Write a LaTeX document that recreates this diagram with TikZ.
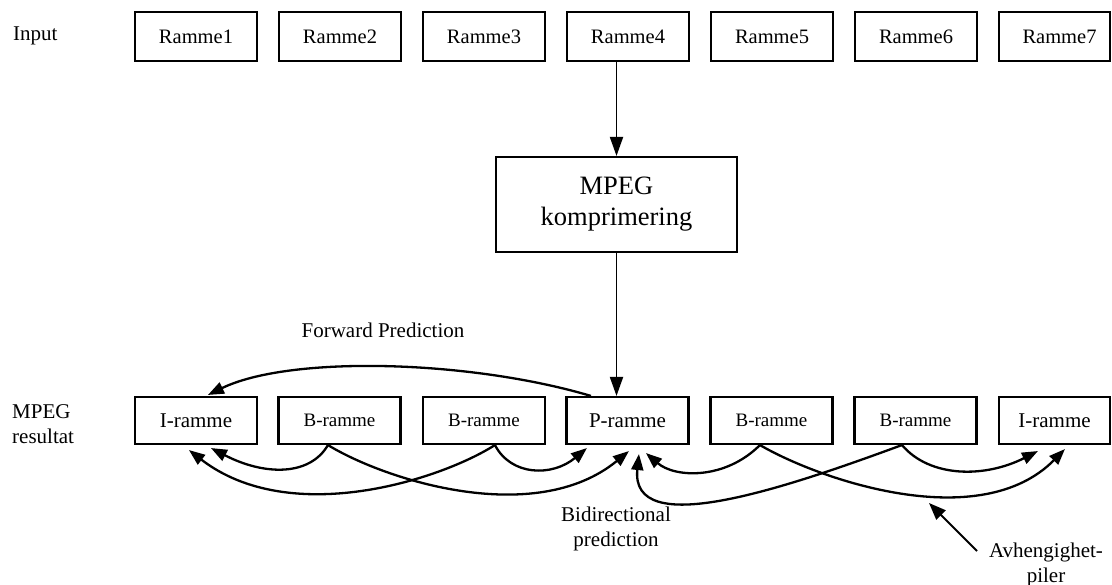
\documentclass[tikz,border=0pt]{standalone}
\usepackage{fontspec}
\setmainfont{Liberation Serif}
\usetikzlibrary{arrows.meta,calc}
\begin{document}
\begin{tikzpicture}[x=1pt,y=-1pt,
  frame/.style={draw,line width=2.1pt,inner sep=0pt,minimum width=122pt},
  inframe/.style={frame,minimum height=49pt,font=\fontsize{20.5}{24}\selectfont},
  outframe/.style={frame,minimum height=47pt,font=\fontsize{21}{24}\selectfont},
  bframe/.style={frame,minimum height=47pt,font=\fontsize{19}{22}\selectfont},
  lbl/.style={inner sep=0pt,font=\fontsize{21}{25}\selectfont},
  flow/.style={line width=1.9pt,-{Triangle[length=19pt,width=13pt]}},
  dep/.style={line width=2.3pt,-{Triangle[length=16pt,width=12pt]}},
  pointer/.style={line width=1.8pt,-{Triangle[length=17pt,width=13pt]}}]
\useasboundingbox (0,0) rectangle (1112,585);

% input frames
\node[inframe] (r1) at (196,36.5) {Ramme1};
\node[inframe] (r2) at (340,36.5) {Ramme2};
\node[inframe] (r3) at (484,36.5) {Ramme3};
\node[inframe] (r4) at (628,36.5) {Ramme4};
\node[inframe] (r5) at (772,36.5) {Ramme5};
\node[inframe] (r6) at (916,36.5) {Ramme6};
\node[inframe,minimum width=111pt] (r7) at (1054.5,36.5) {\hspace*{10pt}Ramme7};

% compressor
\node[frame,minimum width=241pt,minimum height=95pt,align=center,
  font=\fontsize{26.5}{31}\selectfont] (mp) at (616.5,204.5) {MPEG\\komprimering};

% output frames
\node[outframe] (i1) at (196,420.5) {I-ramme};
\node[bframe]   (b1) at (339.5,420.5) {B-ramme};
\node[bframe]   (b2) at (484,420.5) {B-ramme};
\node[outframe] (p)  at (627.5,420.5) {P-ramme};
\node[bframe]   (b3) at (771.5,420.5) {B-ramme};
\node[bframe]   (b4) at (915.5,420.5) {B-ramme};
\node[outframe,minimum width=111pt] (i2) at (1054.5,420.5) {I-ramme};

% row captions
\node[lbl,anchor=west] (inp) at (13,36) {Input};
\node[lbl,anchor=west,align=left] (res) at (12,424) {MPEG\\resultat};
\node[lbl] (fwd) at (383,330) {Forward Prediction};
\node[lbl,align=center] (bid) at (616,529) {Bidirectional\\prediction};
\node[lbl,align=center] (avh) at (1046,565) {Avhengighet-\\piler};

% compression path
\draw[flow] (mp.north |- r4.south) -- (mp.north);
\draw[flow] (mp.south) -- (mp.south |- p.north);

% forward prediction
\draw[dep] ($(p.north west)+(25.5,0)$) .. controls (470,360) and (290,355) .. ($(i1.north west)+(74,-1)$);

% B-frame dependencies
\draw[dep] ($(b1.south west)+(50.5,0)$) .. controls (310,476) and (265,476) .. ($(i1.south west)+(77,3)$);
\draw[dep] ($(b2.south west)+(73,0)$) .. controls (440,480) and (290,528) .. ($(i1.south west)+(55,5)$);
\draw[dep] ($(b2.south west)+(73,0)$) .. controls (511,476) and (552,477) .. ($(p.south west)+(21.5,3)$);
\draw[dep] ($(b1.south west)+(50.5,0)$) .. controls (385,480) and (535,528) .. ($(p.south west)+(63.5,6)$);
\draw[dep] ($(b3.south west)+(50.5,0)$) .. controls (725,480) and (675,478) .. ($(p.south west)+(80.5,8)$);
\draw[dep] ($(b4.south west)+(48.5,0)$) .. controls (780,490) and (630,540) .. ($(p.south west)+(73.5,9)$);
\draw[dep] ($(b3.south west)+(50.5,0)$) .. controls (820,480) and (980,535) .. ($(i2.south west)+(67,4)$);
\draw[dep] ($(b4.south west)+(48.5,0)$) .. controls (930,478) and (985,478) .. ($(i2.south west)+(40,6)$);

% pointer to the dependency arrows
\coordinate (ptail) at (977,551);
\coordinate (phead) at (929,503);
\draw[pointer] (ptail) -- (phead);
\end{tikzpicture}
\end{document}
